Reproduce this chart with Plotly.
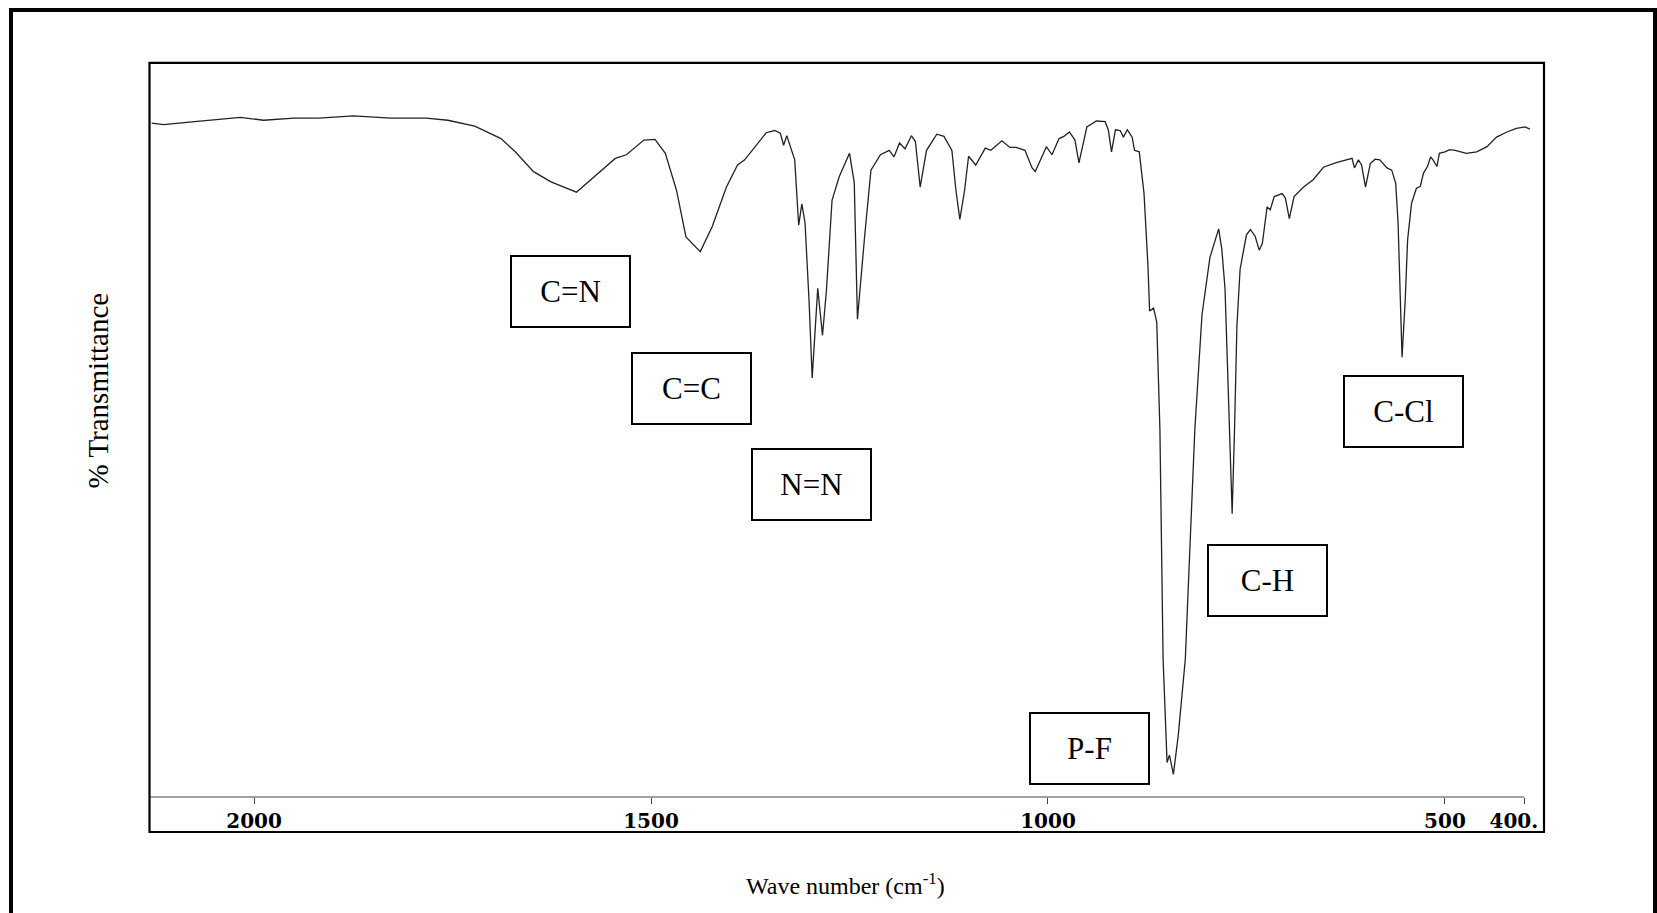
import plotly.graph_objects as go

# ---- data ----
wavenumber = [
    2129, 2114, 2075, 2017, 1988, 1950, 1918, 1875, 1828, 1783, 1756, 1722, 1689, 1671, 1648,
    1626, 1594, 1572, 1545, 1531, 1509, 1495, 1482, 1468, 1456, 1438,
    1423, 1405, 1391, 1382, 1355, 1344, 1337, 1333, 1329, 1319, 1314, 1310, 1306, 1301, 1297,
    1290, 1284, 1279, 1272, 1263, 1250, 1244, 1240, 1231, 1223, 1211, 1200, 1194, 1187, 1180,
    1172, 1167, 1161, 1153, 1140, 1131, 1121, 1116, 1111, 1105, 1100, 1091, 1079, 1072, 1058,
    1048, 1040, 1029, 1020, 1016, 1002, 995, 986, 980, 973, 966, 961, 951, 939, 928, 924, 920,
    915, 909, 905, 900, 894, 891, 885, 879, 874, 872, 867, 863, 859, 855, 850, 847, 842, 836,
    827, 821, 815, 806, 796, 785, 781, 777, 773, 768, 765, 762, 758, 750, 745, 739, 734, 730,
    724, 720, 715, 705, 701, 696, 690, 678, 666, 653, 638, 620, 617, 614, 609, 605, 600, 594,
    588, 582, 573, 567, 562, 559, 556, 554, 550, 547, 542, 536, 531, 527, 522, 518, 515, 510,
    507, 500, 494, 487, 473, 460, 447, 435, 422, 410, 399, 393,
]
transmittance = [
    91.8, 91.6, 92.0, 92.6, 92.2, 92.5, 92.5, 92.8, 92.5, 92.5, 92.2, 91.4, 89.7, 87.9, 85.2,
    83.8, 82.4, 84.5, 87.0, 87.5, 89.5, 89.6, 87.7, 82.7, 76.3, 74.3,
    77.7, 83.1, 86.1, 86.8, 90.5, 90.8, 90.4, 88.8, 90.1, 86.8, 77.9, 80.8, 78.2, 67.7, 57.1,
    69.3, 62.9, 69.1, 81.3, 84.5, 87.7, 83.7, 65.1, 76.3, 85.4, 87.5, 88.1, 87.2, 89.1, 88.3,
    90.1, 89.3, 83.1, 88.1, 90.3, 90.0, 88.1, 82.7, 78.7, 82.7, 87.3, 86.1, 88.4, 88.1, 89.4,
    88.5, 88.5, 88.1, 85.7, 85.2, 88.6, 87.5, 89.7, 90.0, 90.6, 89.5, 86.4, 91.3, 92.1, 92.0, 90.9, 87.9,
    90.9, 90.8, 89.9, 90.9, 89.9, 88.1, 87.9, 82.2, 72.2, 66.2, 66.6, 64.7, 50.1, 18.8, 4.7, 5.7, 3.1, 8.3,
    18.8, 34.5, 50.1, 65.7, 73.5, 77.4, 74.6, 69.3, 55.3, 38.6, 50.1, 64.2, 71.9, 76.6, 77.3, 76.4, 74.5, 75.4,
    80.4, 80.0, 81.8, 82.2, 81.6, 78.8, 81.8, 83.1, 84.1, 85.8, 86.4, 86.9, 87.0, 85.7, 86.8, 86.1, 83.1, 86.3,
    86.9, 86.8, 85.7, 85.4, 83.6, 78.2, 65.4, 59.9, 67.7, 75.9, 80.9, 82.9, 83.2, 85.0, 85.9, 87.2, 86.8, 85.9,
    87.7, 87.9, 88.2, 88.1, 87.7, 87.9, 88.6, 89.9, 90.6, 91.1, 91.3, 91.0,
]
tick_values = [2000, 1500, 1000, 500, 400]
tick_labels = ["2000", "1500", "1000", "500", "400.\u00a0\u00a0\u00a0"]
band_labels = ["C=N", "C=C", "N=N", "P-F", "C-H", "C-Cl"]

# ---- layout geometry (pixels in the 1657x913 page) ----
W, H = 1657, 913
L, R, T, B = 150, 1544, 63, 797   # plot area: left, right, top, bottom (= baseline)
PW, PH = R - L, B - T
X_RANGE = [2131.1, 375.2]


def px(x):
    return (x - L) / PW


def py(y):
    return (B - y) / PH


box_centres = [(570.5, 291.5), (691, 388), (811, 484), (1089, 748), (1267, 580), (1403, 411.5)]

serif = "Liberation Serif, Times New Roman, serif"

fig = go.Figure()
fig.add_trace(go.Scatter(
    x=wavenumber, y=transmittance, mode="lines",
    line=dict(color="#222222", width=1.3), hoverinfo="skip", showlegend=False,
))

annotations = []
for lab, (cx, cy) in zip(band_labels, box_centres):
    annotations.append(dict(
        text=lab, xref="paper", yref="paper", x=px(cx), y=py(cy),
        xanchor="center", yanchor="middle", showarrow=False,
        width=117, height=69, borderpad=0, borderwidth=2, bordercolor="black",
        bgcolor="rgba(255,255,255,0)", font=dict(family=serif, size=31, color="black"),
    ))
annotations.append(dict(
    text="% Transmittance", xref="paper", yref="paper", x=px(97.5), y=py(391),
    xanchor="center", yanchor="middle", textangle=-90, showarrow=False,
    font=dict(family=serif, size=29, color="black"),
))
annotations.append(dict(
    text="Wave number (cm<sup>-1</sup>)", xref="paper", yref="paper", x=px(845), y=py(884),
    xanchor="center", yanchor="middle", showarrow=False,
    font=dict(family=serif, size=24, color="black"),
))

shapes = [
    # outer frame
    dict(type="rect", xref="paper", yref="paper", x0=px(11), x1=px(1655), y0=py(940), y1=py(10),
         line=dict(color="black", width=4), layer="below"),
    # chart box
    dict(type="rect", xref="paper", yref="paper", x0=px(149.5), x1=px(1544), y0=py(832), y1=py(62.8),
         line=dict(color="black", width=2.2), layer="below"),
    # baseline (x axis line) up to the last tick
    dict(type="line", xref="x", yref="paper", x0=X_RANGE[0], x1=tick_values[-1], y0=0, y1=0,
         line=dict(color="#444444", width=1.2)),
]

fig.update_layout(
    width=W, height=H,
    margin=dict(l=L, r=W - R, t=T, b=H - B, pad=0),
    paper_bgcolor="white", plot_bgcolor="rgba(0,0,0,0)",
    showlegend=False,
    annotations=annotations, shapes=shapes,
    xaxis=dict(
        range=X_RANGE, showgrid=False, zeroline=False, showline=False,
        tickmode="array", tickvals=tick_values, ticktext=tick_labels,
        ticks="outside", ticklen=6, tickwidth=1, tickcolor="#444444",
        tickfont=dict(family="DejaVu Serif, serif", size=20, color="black", weight="bold"),
        fixedrange=True,
    ),
    yaxis=dict(range=[0, 100], visible=False, fixedrange=True),
)

fig.write_html("out.html")
